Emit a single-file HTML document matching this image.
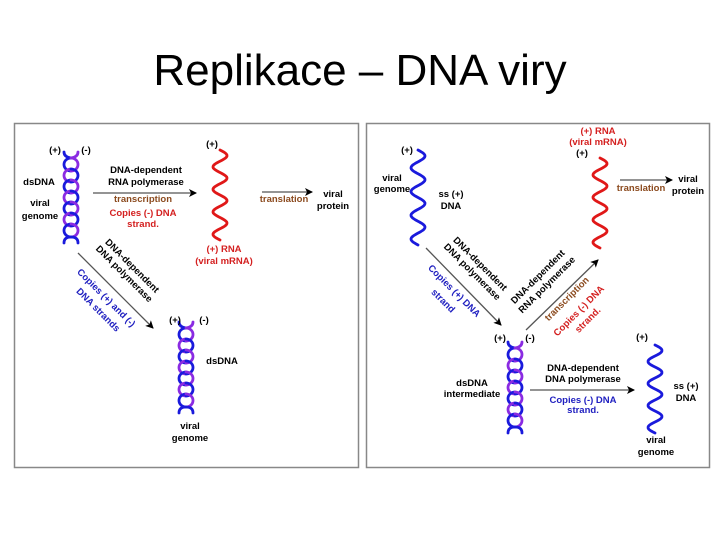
<!DOCTYPE html>
<html><head><meta charset="utf-8"><style>
html,body{margin:0;padding:0;background:#fff;width:720px;height:540px;overflow:hidden}
svg text{font-family:"Liberation Sans",Arial,sans-serif;font-weight:bold;font-size:9.5px;text-anchor:middle}
</style></head><body>
<svg id="s" width="720" height="540" viewBox="0 0 720 540" xmlns="http://www.w3.org/2000/svg">
<defs><marker id="a" markerWidth="8" markerHeight="8" refX="7" refY="4" orient="auto" markerUnits="userSpaceOnUse"><path d="M0,0 L8,4 L0,8 L2,4z" fill="#000"/></marker></defs>
<text x="360" y="85" style="font-size:44px;font-weight:normal">Replikace – DNA viry</text>
<rect x="14.5" y="123.5" width="344" height="344" fill="#fff" stroke="#888" stroke-width="1.5"/>
<rect x="366.5" y="123.5" width="343" height="344" fill="#fff" stroke="#888" stroke-width="1.5"/>
<g id="g"></g>
<g stroke="#555" stroke-width="1.3" fill="none" marker-end="url(#a)">
<line x1="93" y1="193" x2="196" y2="193"/>
<line x1="262" y1="192" x2="312" y2="192"/>
<line x1="78" y1="253" x2="153" y2="328"/>
<line x1="426" y1="248" x2="501" y2="325"/>
<line x1="526" y1="330" x2="598" y2="260"/>
<line x1="530" y1="390" x2="634" y2="390"/>
<line x1="620" y1="180" x2="672" y2="180"/>
</g>
<g fill="#000">
<text x="55" y="153">(+)</text><text x="86" y="153">(-)</text>
<text x="39" y="185">dsDNA</text><text x="40" y="206">viral</text><text x="40" y="219">genome</text>
<text x="146" y="173">DNA-dependent</text><text x="146" y="185">RNA polymerase</text>
<text x="212" y="147">(+)</text>
<text x="333" y="197">viral</text><text x="333" y="209">protein</text>
<text x="175" y="323">(+)</text><text x="204" y="323">(-)</text>
<text x="222" y="364">dsDNA</text><text x="190" y="429">viral</text><text x="190" y="441">genome</text>
<text transform="translate(130,268) rotate(45)">DNA-dependent</text>
<text transform="translate(122,276) rotate(45)">DNA polymerase</text>
<text x="407" y="153">(+)</text>
<text x="392" y="181">viral</text><text x="392" y="192">genome</text>
<text x="451" y="197">ss (+)</text><text x="451" y="209">DNA</text>
<text x="582" y="156">(+)</text>
<text x="688" y="182">viral</text><text x="688" y="194">protein</text>
<text transform="translate(478,266) rotate(45)">DNA-dependent</text>
<text transform="translate(470,274) rotate(45)">DNA polymerase</text>
<text transform="translate(540,279) rotate(-45)">DNA-dependent</text>
<text transform="translate(549,287) rotate(-45)">RNA polymerase</text>
<text x="500" y="341">(+)</text><text x="530" y="341">(-)</text>
<text x="472" y="386">dsDNA</text><text x="472" y="397">intermediate</text>
<text x="583" y="371">DNA-dependent</text><text x="583" y="382">DNA polymerase</text>
<text x="642" y="340">(+)</text>
<text x="686" y="389">ss (+)</text><text x="686" y="401">DNA</text>
<text x="656" y="443">viral</text><text x="656" y="455">genome</text>
</g>
<g fill="#8b4a1e">
<text x="143" y="202">transcription</text><text x="284" y="202">translation</text>
<text x="641" y="191">translation</text>
<text transform="translate(569,301) rotate(-45)">transcription</text>
</g>
<g fill="#d42020">
<text x="143" y="216">Copies (-) DNA</text><text x="143" y="227">strand.</text>
<text x="224" y="252">(+) RNA</text><text x="224" y="264">(viral mRNA)</text>
<text x="598" y="134">(+) RNA</text><text x="598" y="145">(viral mRNA)</text>
<text transform="translate(581,313) rotate(-45)">Copies (-) DNA</text>
<text transform="translate(590,322) rotate(-45)">strand.</text>
</g>
<g fill="#2020c0">
<text transform="translate(104,300) rotate(45)">Copies (+) and (-)</text>
<text transform="translate(96,312) rotate(45)">DNA strands</text>
<text transform="translate(452,293) rotate(45)">Copies (+) DNA</text>
<text transform="translate(441,303) rotate(45)">strand</text>
<text x="583" y="403">Copies (-) DNA</text><text x="583" y="413">strand.</text>
</g>
</svg>
<script>
var g=document.getElementById('g'),ns='http://www.w3.org/2000/svg';
function P(d,c,w){var p=document.createElementNS(ns,'path');p.setAttribute('d',d);p.setAttribute('stroke',c);p.setAttribute('stroke-width',w||3);p.setAttribute('fill','none');p.setAttribute('stroke-linecap','round');g.appendChild(p);}
function helix(cx,y0,y1){var sp=11,r=7,ry=6.5;var n=Math.floor((y1-y0-12)/sp);
 P('M'+(cx-r)+','+(y0-3)+' Q'+(cx-r)+','+(y0+2)+' '+cx+','+(y0+3),'#1a1adc',2.8);
 P('M'+(cx+r)+','+(y0-3)+' Q'+(cx+r)+','+(y0+2)+' '+cx+','+(y0+3),'#8a2be2',2.8);
 for(var k=0;k<n;k++){var cy=y0+ry+3+k*sp;var c1=k%2?'#8a2be2':'#1a1adc',c2=k%2?'#1a1adc':'#8a2be2';
  P('M'+cx+','+(cy-ry)+' A'+r+','+ry+' 0 0 0 '+cx+','+(cy+ry),c1,2.8);
  P('M'+cx+','+(cy-ry)+' A'+r+','+ry+' 0 0 1 '+cx+','+(cy+ry),c2,2.8);}
 var yb=y0+3+n*sp;
 P('M'+cx+','+(yb+2)+' Q'+(cx-r)+','+(yb+2)+' '+(cx-r)+','+(yb+8),'#1a1adc',2.8);
 P('M'+cx+','+(yb+2)+' Q'+(cx+r)+','+(yb+2)+' '+(cx+r)+','+(yb+8),'#1a1adc',2.8);
}
function wave(cx,y0,y1,c){var d='';for(var y=y0;y<=y1;y+=1){var x=cx+7*Math.sin((y-y0)/(y1-y0)*4*2*Math.PI);d+=(d?'L':'M')+x.toFixed(1)+','+y;}P(d,c,2.8);}
helix(71,155,247);helix(186,325,422);helix(515,345,434);
wave(220,150,240,'#e01818');wave(418,150,245,'#1a1adc');wave(600,158,248,'#e01818');wave(655,345,433,'#1a1adc');
</script>
</body></html>
